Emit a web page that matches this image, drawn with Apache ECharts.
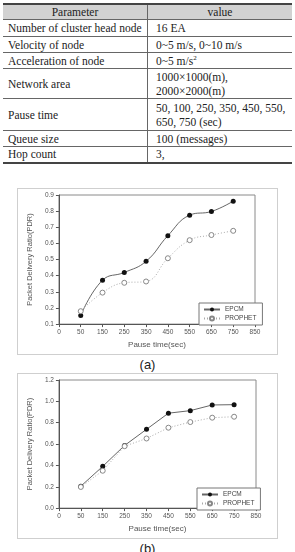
<!DOCTYPE html>
<html>
<head>
<meta charset="utf-8">
<script src="https://cdn.jsdelivr.net/npm/echarts@6/dist/echarts.min.js"></script>
<style>
body { margin: 0; background: #fff; width: 295px; height: 552px; overflow: hidden; position: relative; }
.param {
  position: absolute; left: 3px; top: 3px; width: 289px;
  border-collapse: collapse;
  font-family: "Liberation Serif", "DejaVu Serif", serif;
  font-size: 11.5px; color: #222;
}
.param td, .param th { padding: 0 0 0 5px; border-top: 1px solid #666; border-bottom: 1px solid #666; line-height: 14px; text-align: left; font-weight: normal; }
.param th { background: #d2d2d2; text-align: center; border-top: 2px solid #444; height: 14px; padding: 0; }
.param tr:last-child td { border-bottom: 2px solid #444; }
.param td:first-child, .param th:first-child { border-right: 1px solid #666; width: 139px; }
.param td:last-child { padding-left: 8px; }
.param sup { font-size: 7px; line-height: 0; }
.frame { position: absolute; left: 17px; width: 261px; border: 1px solid #cfcfcf; box-sizing: border-box; }
.cap { position: absolute; left: 0; width: 295px; text-align: center; font-family: "Liberation Sans", Arial, sans-serif; font-size: 13px; color: #222; }
</style>
</head>
<body>
<table class="param">
  <tr><th>Parameter</th><th>value</th></tr>
  <tr style="height:17px"><td>Number of cluster head node</td><td>16 EA</td></tr>
  <tr style="height:16px"><td>Velocity of node</td><td>0~5 m/s, 0~10 m/s</td></tr>
  <tr style="height:16px"><td>Acceleration of node</td><td>0~5 m/s<sup>2</sup></td></tr>
  <tr style="height:30px"><td>Network area</td><td>1000×1000(m),<br>2000×2000(m)</td></tr>
  <tr style="height:32px"><td>Pause time</td><td>50, 100, 250, 350, 450, 550,<br>650, 750 (sec)</td></tr>
  <tr style="height:16px"><td>Queue size</td><td>100 (messages)</td></tr>
  <tr style="height:16px"><td>Hop count</td><td>3,</td></tr>
</table>

<div id="chartA" class="frame" style="top:188px; height:167px;"></div>
<div class="cap" style="top:357px;">(a)</div>
<div id="chartB" class="frame" style="top:373px; height:166px;"></div>
<div class="cap" style="top:541px;">(b)</div>

<script>
// x categories (pause time), first and last are axis ends only
var pauseTicks = ['0', '50', '150', '250', '350', '450', '550', '650', '750', '850']

// figure (a)
var epcmA = [null, 0.153, 0.372, 0.42, 0.489, 0.648, 0.775, 0.798, 0.862, null]
var prophetA = [null, 0.18, 0.295, 0.356, 0.364, 0.508, 0.62, 0.652, 0.678, null]

// figure (b)
var epcmB = [null, 0.205, 0.391, 0.587, 0.738, 0.889, 0.913, 0.966, 0.969, null]
var prophetB = [null, 0.198, 0.35, 0.58, 0.652, 0.753, 0.806, 0.847, 0.856, null]

var fontFam = '"Liberation Sans", Arial, sans-serif'

function makeOption (opt) {
  return {
    animation: false,
    backgroundColor: '#fff',
    textStyle: { fontFamily: fontFam },
    grid: {
      left: opt.grid[0], top: opt.grid[1], right: opt.grid[2], bottom: opt.grid[3],
      show: true, borderColor: '#8a8a8a', borderWidth: 1, backgroundColor: '#fff'
    },
    legend: {
      orient: 'vertical',
      left: opt.legend[0],
      top: opt.legend[1],
      data: ['EPCM', 'PROPHET'],
      backgroundColor: '#fff',
      borderColor: '#777',
      borderWidth: 1,
      padding: [3, 6, 3, 4],
      itemWidth: 16,
      itemHeight: 5,
      itemGap: 2,
      textStyle: { fontSize: 6.5, color: '#444', fontFamily: fontFam }
    },
    xAxis: {
      type: 'category',
      data: pauseTicks,
      boundaryGap: false,
      name: 'Pause time(sec)',
      nameLocation: 'middle',
      nameGap: opt.xNameGap,
      nameTextStyle: { fontSize: 8, color: '#555' },
      axisLine: { lineStyle: { color: '#555' } },
      axisTick: { length: 3, lineStyle: { color: '#555' } },
      axisLabel: { fontSize: 6.5, color: '#555', margin: 5 },
      splitLine: { show: false }
    },
    yAxis: {
      type: 'value',
      min: opt.yMin,
      max: opt.yMax,
      interval: opt.yStep,
      name: 'Packet Delivery Ratio(PDR)',
      nameLocation: 'middle',
      nameGap: opt.yNameGap,
      nameTextStyle: { fontSize: 7.5, color: '#555' },
      axisLine: { show: true, lineStyle: { color: '#555' } },
      axisTick: { show: true, length: 3, lineStyle: { color: '#555' } },
      axisLabel: {
        fontSize: 6.5, color: '#555', margin: 5,
        formatter: function (v) { return v.toFixed(1) }
      },
      splitLine: { show: false }
    },
    series: [
      {
        name: 'EPCM',
        type: 'line',
        smooth: opt.smooth,
        data: opt.epcm,
        symbol: 'circle',
        symbolSize: 5,
        itemStyle: { color: '#111', borderColor: '#111', borderWidth: 0 },
        lineStyle: { color: '#666', width: 1 }
      },
      {
        name: 'PROPHET',
        type: 'line',
        smooth: opt.smooth,
        data: opt.prophet,
        symbol: 'circle',
        symbolSize: 5,
        itemStyle: { color: '#fff', borderColor: '#888', borderWidth: 1 },
        lineStyle: { color: '#aaa', width: 1, type: [1, 2] }
      }
    ]
  }
}

var chartA = echarts.init(document.getElementById('chartA'))
chartA.setOption(makeOption({
  grid: [38, 6, 22, 24],
  legend: [181, 114],
  xNameGap: 14,
  yNameGap: 20,
  yMin: 0.1, yMax: 0.9, yStep: 0.1,
  smooth: 0.45,
  epcm: epcmA,
  prophet: prophetA
}))

var chartB = echarts.init(document.getElementById('chartB'))
chartB.setOption(makeOption({
  grid: [34, 6, 21, 23],
  legend: [179, 114],
  xNameGap: 14,
  yNameGap: 19,
  yMin: 0, yMax: 1.2, yStep: 0.2,
  smooth: false,
  epcm: epcmB,
  prophet: prophetB
}))
</script>
</body>
</html>
